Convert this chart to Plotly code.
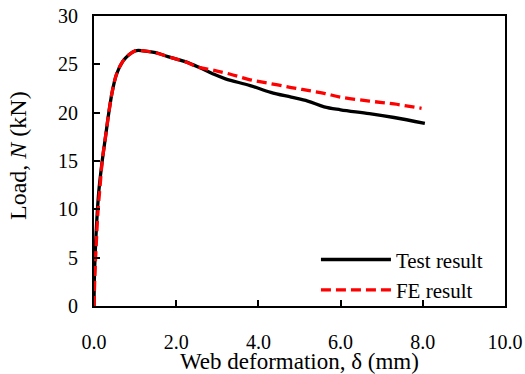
import plotly.graph_objects as go

test_x = [0, 0.01, 0.03, 0.07, 0.12, 0.2, 0.28, 0.36, 0.45, 0.55, 0.7, 0.85, 1.0, 1.2, 1.5, 1.8, 2.2, 2.55, 2.9, 3.2, 3.8, 4.3, 4.8, 5.2, 5.6, 6.0, 6.7, 7.3, 8.05]
test_y = [0, 3, 5.5, 9, 12, 15, 17.5, 20, 22.3, 24, 25.3, 26, 26.4, 26.4, 26.2, 25.8, 25.3, 24.7, 24.0, 23.5, 22.8, 22.1, 21.6, 21.2, 20.6, 20.3, 19.9, 19.5, 18.9]

fe_x = [0, 0.02, 0.05, 0.1, 0.15, 0.2, 0.28, 0.36, 0.45, 0.55, 0.7, 0.85, 1.0, 1.2, 1.5, 1.8, 2.2, 2.55, 2.9, 3.3, 3.8, 4.3, 4.8, 5.2, 5.6, 6.0, 6.7, 7.3, 7.97]
fe_y = [0, 3, 6, 10, 12.5, 15, 17.5, 20, 22.3, 24, 25.3, 26, 26.4, 26.4, 26.2, 25.8, 25.3, 24.7, 24.4, 24.0, 23.4, 23.0, 22.6, 22.3, 22.0, 21.6, 21.2, 20.9, 20.45]

x_ticks = [0, 2, 4, 6, 8, 10]
x_labels = ["0.0", "2.0", "4.0", "6.0", "8.0", "10.0"]
y_ticks = [0, 5, 10, 15, 20, 25, 30]

x_title = "Web deformation, δ (mm)"
y_title = "Load, <i>N</i> (kN)"

fig = go.Figure()
fig.add_trace(go.Scatter(x=test_x, y=test_y, mode="lines", name="Test result",
                         line=dict(color="black", width=3.3), line_shape="spline"))
fig.add_trace(go.Scatter(x=fe_x, y=fe_y, mode="lines", name="FE result",
                         line=dict(color="#ff0000", width=3.3, dash="10px,5px"), line_shape="spline"))

font = "Liberation Serif, Times New Roman, serif"
fig.update_layout(
    width=525, height=374,
    margin=dict(l=94, r=20, t=16, b=68),
    plot_bgcolor="white", paper_bgcolor="white",
    font=dict(family=font, size=20, color="black"),
    showlegend=True,
    legend=dict(x=0.54, y=-0.015, xanchor="left", yanchor="bottom",
                bgcolor="rgba(0,0,0,0)", font=dict(size=21), itemwidth=70,
                tracegroupgap=0),
    xaxis=dict(range=[0, 10], tickvals=x_ticks, ticktext=x_labels,
               ticks="inside", ticklen=6, tickwidth=1.5, tickcolor="black",
               ticklabelstandoff=17, automargin=False, ticklabeloverflow="allow",
               showline=True, linecolor="black", linewidth=2, mirror=True,
               showgrid=False, zeroline=False),
    yaxis=dict(range=[0, 30], tickvals=y_ticks,
               ticks="inside", ticklen=6, tickwidth=1.5, tickcolor="black",
               ticklabelstandoff=10, automargin=False, ticklabeloverflow="allow",
               showline=True, linecolor="black", linewidth=2, mirror=True,
               showgrid=False, zeroline=False),
    annotations=[
        dict(text=x_title, xref="paper", yref="paper", x=0.5, y=0,
             xanchor="center", yanchor="top", yshift=-41, showarrow=False,
             font=dict(size=23)),
        dict(text=y_title, xref="paper", yref="paper", x=0, y=0.5,
             xanchor="center", yanchor="middle", xshift=-76, yshift=5,
             textangle=-90, showarrow=False, font=dict(size=24)),
    ],
)
# remove the browser's default 8px page margin so the figure sits at (0,0)
fig.write_html("out.html", config={"displayModeBar": False},
               post_script="document.body.style.margin='0px';")
